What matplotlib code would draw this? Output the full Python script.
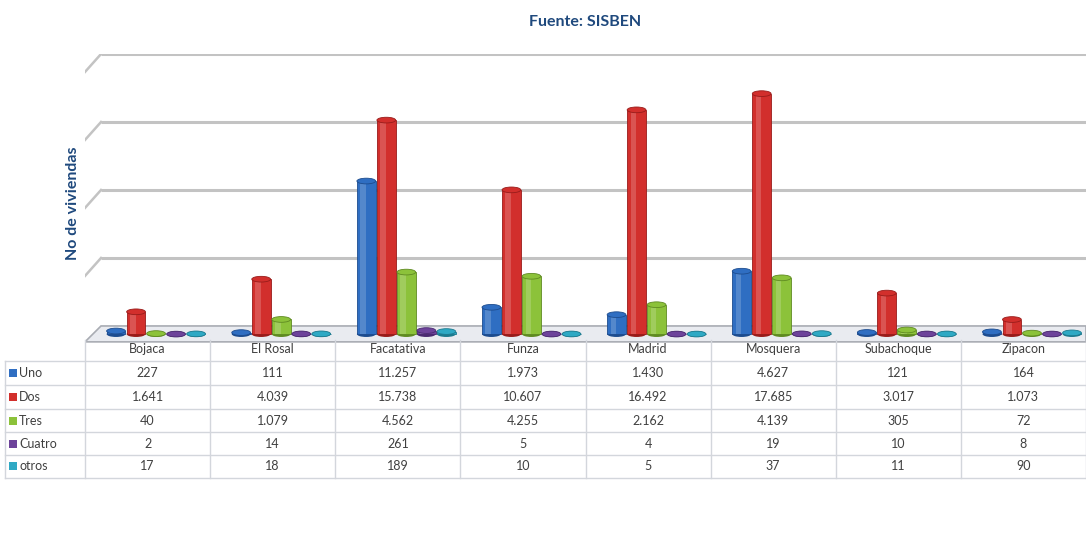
import matplotlib.pyplot as plt
import matplotlib.transforms as mtransforms
from matplotlib.patches import Ellipse, Rectangle, Polygon

plt.rcParams['font.family'] = ['Lato', 'DejaVu Sans']

municipios = ['Bojaca', 'El Rosal', 'Facatativa', 'Funza', 'Madrid', 'Mosquera', 'Subachoque', 'Zipacon']
series = ['Uno', 'Dos', 'Tres', 'Cuatro', 'otros']
uno = [227, 111, 11257, 1973, 1430, 4627, 121, 164]
dos = [1641, 4039, 15738, 10607, 16492, 17685, 3017, 1073]
tres = [40, 1079, 4562, 4255, 2162, 4139, 305, 72]
cuatro = [2, 14, 261, 5, 4, 19, 10, 8]
otros = [17, 18, 189, 10, 5, 37, 11, 90]
valores = [uno, dos, tres, cuatro, otros]
colores = ['#2f6ec2', '#d22f2c', '#8cc23a', '#6d439a', '#2fa9c4']
oscuros = ['#1d4c8e', '#981c1a', '#5f8a22', '#4a2a70', '#1d7a8e']
grid_vals = [5000, 10000, 15000, 20000]

W, H = 1086, 535


def fx(px):
    return px / W


def fy(py):
    return 1 - py / H


fig = plt.figure(figsize=(W / 100, H / 100), dpi=100)
ax = fig.add_axes([fx(85), fy(345), fx(1001), (345 - 54) / H])
ax.set_xlim(-0.5, len(municipios) - 0.5)
ax.set_ylim(-1400, 20000)
ax.axis('off')

mix = mtransforms.blended_transform_factory(ax.transAxes, ax.transData)
depth = 1320  # 3D slant of the back wall, in data units

# back wall gridlines with slanted left end
for g in grid_vals:
    ax.plot([0.016, 1], [g, g], transform=mix, color='#c3c3c3', lw=2.2,
            solid_capstyle='butt', zorder=1)
    ax.plot([0, 0.016], [g - depth, g], transform=mix, color='#c3c3c3', lw=1.8, zorder=1)

# floor
floor = Polygon([(0, -depth + 150), (0.016, 0), (1, 0), (1, -depth + 150)], closed=True,
                transform=mix, facecolor='#e9ebf0', edgecolor='#a9acb3', lw=1.2, zorder=2)
ax.add_patch(floor)

base = -600
ancho = 0.15
paso = 0.16
for i, (nombre, vals) in enumerate(zip(series, valores)):
    xs = [k + (i - 2) * paso + 0.068 for k in range(len(municipios))]
    ax.bar(xs, vals, width=ancho, bottom=base, color=colores[i], edgecolor=oscuros[i],
           lw=0.6, zorder=3)
    ax.bar([x - 0.025 for x in xs], vals, width=0.045, bottom=base, color='white',
           alpha=0.18, lw=0, zorder=4)
    for x, v in zip(xs, vals):
        ax.add_patch(Ellipse((x, base), ancho, 420, facecolor=oscuros[i], lw=0, zorder=2.9))
        ax.add_patch(Ellipse((x, base + v), ancho, 420, facecolor=colores[i],
                             edgecolor=oscuros[i], lw=0.6, zorder=5))

# title and axis label
fig.text(fx(585), fy(22), 'Fuente: SISBEN', ha='center', va='center', fontsize=11.5,
         fontweight='bold', color='#1f497d')
fig.text(fx(73), fy(203), 'No de viviendas', ha='center', va='center', rotation=90,
         fontsize=11.5, fontweight='bold', color='#1f497d')

# data table below the chart
tcol = mtransforms.blended_transform_factory(ax.transData, fig.transFigure)
lineas = '#d3d6dc'
fila_y = [349, 373, 397, 421, 444, 466]
bordes_y = [361, 385, 409, 432, 455, 478]
for by in bordes_y:
    fig.add_artist(plt.Line2D([fx(5), 1], [fy(by), fy(by)], color=lineas, lw=1))
fig.add_artist(plt.Line2D([fx(5), fx(5)], [fy(361), fy(478)], color=lineas, lw=1))
for k in range(len(municipios) + 1):
    ax.plot([k - 0.5, k - 0.5], [fy(340), fy(478)], transform=tcol, color=lineas, lw=1,
            clip_on=False)

for k, m in enumerate(municipios):
    ax.text(k, fy(fila_y[0]), m, transform=tcol, ha='center', va='center', fontsize=9,
            color='#404040')
for i, (nombre, vals) in enumerate(zip(series, valores)):
    y = fy(fila_y[i + 1])
    fig.add_artist(Rectangle((fx(9), y - 4 / H), 8 / W, 8 / H, transform=fig.transFigure,
                             facecolor=colores[i], edgecolor='none'))
    fig.text(fx(19), y, nombre, ha='left', va='center', fontsize=9, color='#404040')
    for k, v in enumerate(vals):
        ax.text(k, y, f'{v:,}'.replace(',', '.'), transform=tcol, ha='center', va='center',
                fontsize=9, color='#404040')

fig.savefig('out.png', dpi=100)
